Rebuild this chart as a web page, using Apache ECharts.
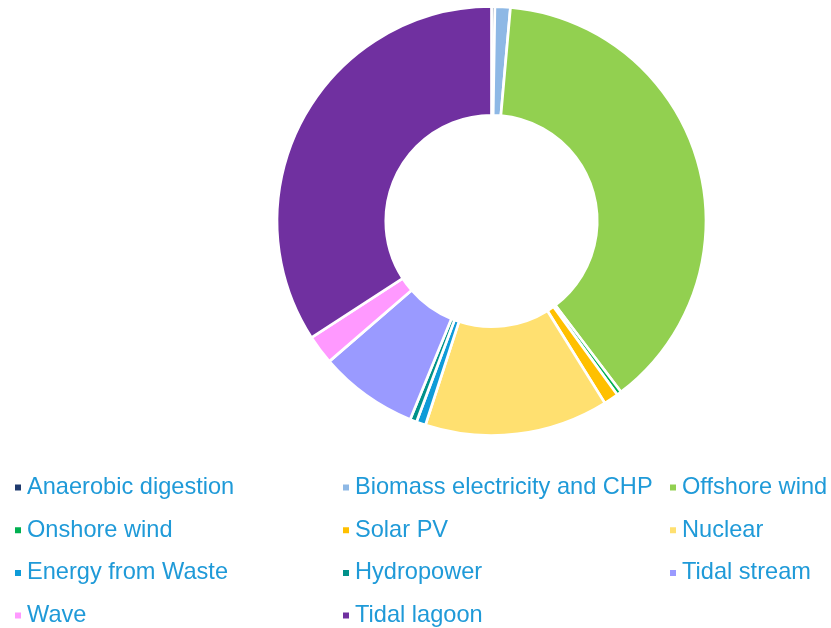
<!DOCTYPE html>
<html>
<head>
<meta charset="utf-8">
<script src="https://cdn.jsdelivr.net/npm/echarts@6/dist/echarts.min.js"></script>
<style>
  html, body { margin: 0; padding: 0; background: #ffffff; }
  #chart { width: 831px; height: 628px; }
</style>
</head>
<body>
<div id="chart"></div>
<script>
// Share of generation by technology (%)
var categories = [
  'Anaerobic digestion', 'Biomass electricity and CHP', 'Offshore wind',
  'Onshore wind', 'Solar PV', 'Nuclear',
  'Energy from Waste', 'Hydropower', 'Tidal stream',
  'Wave', 'Tidal lagoon'
];
var values = [0.25, 1.15, 38.0, 0.35, 1.1, 13.75, 0.7, 0.5, 7.4, 2.2, 33.9];
var colors = [
  '#1F3A6E', '#8EB8E5', '#92D050',
  '#00B050', '#FFC000', '#FFE070',
  '#0E9BD8', '#00918A', '#9A9AFF',
  '#FF99FF', '#7030A0'
];

// Legend columns, read row by row across three columns
var legendCols = [
  ['Anaerobic digestion', 'Onshore wind', 'Energy from Waste', 'Wave'],
  ['Biomass electricity and CHP', 'Solar PV', 'Hydropower', 'Tidal lagoon'],
  ['Offshore wind', 'Nuclear', 'Tidal stream']
];
var legendLeft = [13, 341, 668];

var chart = echarts.init(document.getElementById('chart'), null, { renderer: 'canvas' });

var legends = legendCols.map(function (names, i) {
  return {
    orient: 'vertical',
    left: legendLeft[i],
    top: 475.5,
    height: 155,
    padding: 0,
    itemWidth: 8,
    itemHeight: 8,
    itemGap: 18.7,
    icon: 'rect',
    selectedMode: false,
    data: names,
    textStyle: {
      fontFamily: 'Liberation Sans, Arial, sans-serif',
      fontSize: 23.6,
      lineHeight: 24,
      color: '#1F9AD8'
    }
  };
});

chart.setOption({
  animation: false,
  color: colors,
  legend: legends,
  series: [{
    type: 'pie',
    center: [491.5, 221],
    radius: [105.7, 214.5],
    startAngle: 90,
    clockwise: true,
    silent: true,
    label: { show: false },
    labelLine: { show: false },
    itemStyle: { borderColor: '#ffffff', borderWidth: 2.7 },
    data: categories.map(function (name, i) {
      return { name: name, value: values[i] };
    })
  }]
});
</script>
</body>
</html>
